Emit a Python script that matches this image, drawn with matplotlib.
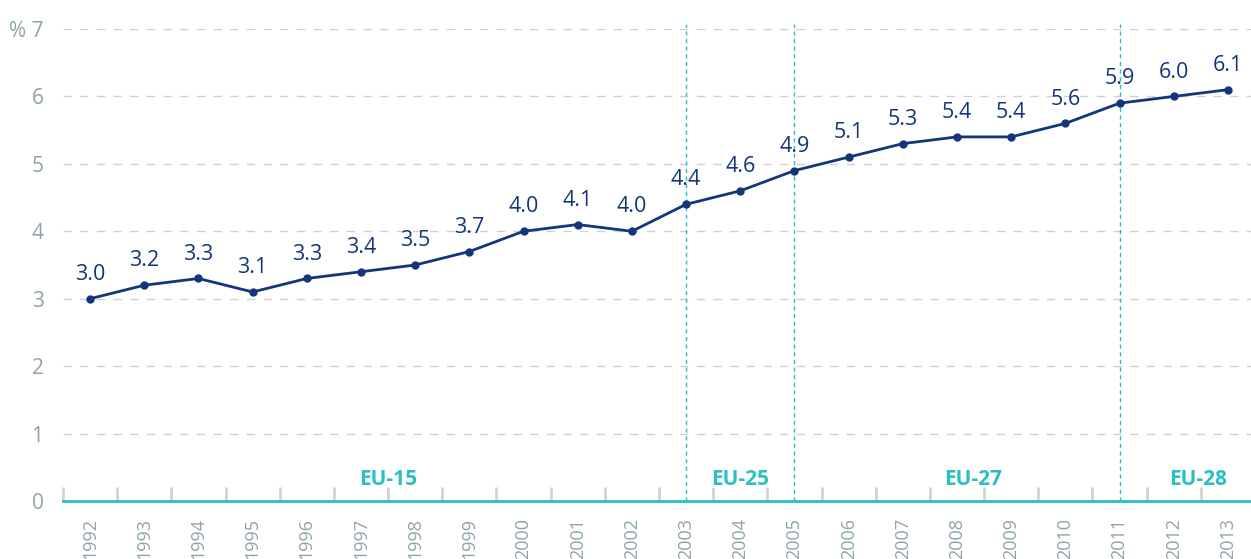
import matplotlib
matplotlib.use("Agg")
import matplotlib.pyplot as plt
from matplotlib.ticker import FixedLocator

plt.rcParams['font.family'] = ['Open Sans', 'DejaVu Sans']

years = list(range(1992, 2014))
values = [3.0, 3.2, 3.3, 3.1, 3.3, 3.4, 3.5, 3.7, 4.0, 4.1, 4.0,
          4.4, 4.6, 4.9, 5.1, 5.3, 5.4, 5.4, 5.6, 5.9, 6.0, 6.1]
boundaries = [2003, 2005, 2011]
groups = ["EU-15", "EU-25", "EU-27", "EU-28"]
group_pos = [1997.5, 2004.0, 2008.3, 2012.45]
yticks = [0, 1, 2, 3, 4, 5, 6, 7]
ytick_labels = ["0", "1", "2", "3", "4", "5", "6", "% 7"]

W, H = 1251, 559
fig = plt.figure(figsize=(W / 100, H / 100), dpi=100)
left_px, right_px, bottom_px, top_px = 63, 1255, 501, 29
ax = fig.add_axes([left_px / W, (H - bottom_px) / H,
                   (right_px - left_px) / W, (bottom_px - top_px) / H])

navy = "#15357a"
teal = "#2bbfbf"
gray = "#8fa3a8"

ax.set_xlim(1991.5, 2013.5)
ax.set_ylim(0, 7)

for y in yticks[1:]:
    ax.axhline(y, color="#d0d0d0", lw=1.0, ls=(0, (6, 6)), zorder=1)

for b in boundaries:
    ax.axvline(b, ymin=0, ymax=1.01, color=teal, lw=1.0, ls=(0, (3, 2.5)),
               zorder=2, clip_on=False)

ax.plot(years, values, color=navy, lw=2.0, marker="o", ms=5, zorder=3)
for x, v in zip(years, values):
    ax.annotate(f"{v:.1f}", (x, v), xytext=(0, 10), textcoords="offset points",
                ha="center", va="bottom", fontsize=15.5, color=navy)

for g, gx in zip(groups, group_pos):
    ax.text(gx, 0.32, g, ha="center", va="center", fontsize=15,
            fontweight="bold", color=teal)

for s in ["top", "right", "left"]:
    ax.spines[s].set_visible(False)
ax.spines["bottom"].set_color(teal)
ax.spines["bottom"].set_linewidth(2)

ax.set_yticks(yticks)
ax.set_yticklabels(ytick_labels, fontsize=15, color=gray)
ax.tick_params(axis="y", length=0, pad=14)

ax.set_xticks(years)
ax.set_xticklabels([str(y) for y in years], rotation=90, fontsize=13,
                   color=gray, va="top")
ax.tick_params(axis="x", which="major", length=0, pad=12)
ax.xaxis.set_minor_locator(FixedLocator([y - 0.5 for y in years]))
ax.tick_params(axis="x", which="minor", direction="in", length=10, width=2,
               color="#d3d3d3")

fig.savefig("out.png", dpi=100)
